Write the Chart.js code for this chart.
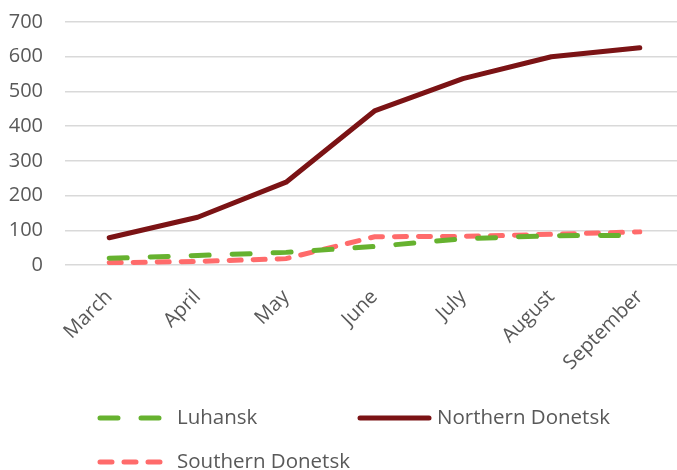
<!DOCTYPE html>
<html>
<head>
<meta charset="utf-8">
<script src="https://cdn.jsdelivr.net/npm/chart.js@4"></script>
<style>
    html, body { margin: 0; padding: 0; background: #fff; overflow: hidden; }
    #wrap { width: 684px; height: 470px; position: relative; }
</style>
</head>
<body>
<div id="wrap"><canvas id="chart"></canvas></div>
<script>
const months = ['March', 'April', 'May', 'June', 'July', 'August', 'September'];
const luhansk = [20, 28, 37, 54, 76, 85, 86];
const northernDonetsk = [79, 138, 239, 444, 537, 600, 626];
const southernDonetsk = [7, 11, 19, 82, 83, 89, 96];
const yTicks = [0, 100, 200, 300, 400, 500, 600, 700];

const textColor = '#595959';
const fontFamily = '"Open Sans", sans-serif';

// legend drawn as a 2-column grid like the original
const legendGrid = {
    swatchX: [98, 358, 98],
    swatchLen: [65, 73, 65],
    textX: [177, 437, 177],
    rowY: [418, 418, 462]
};

const gridLegend = {
    id: 'gridLegend',
    afterDraw(chart) {
        const ctx = chart.ctx;
        ctx.save();
        ctx.font = '20.5px ' + fontFamily;
        ctx.fillStyle = textColor;
        ctx.textBaseline = 'middle';
        chart.data.datasets.forEach((ds, i) => {
            const x = legendGrid.swatchX[i];
            const y = legendGrid.rowY[i];
            const len = legendGrid.swatchLen[i];
            ctx.beginPath();
            ctx.strokeStyle = ds.borderColor;
            ctx.lineWidth = ds.borderWidth;
            ctx.lineCap = 'round';
            ctx.setLineDash(ds.borderDash || []);
            ctx.moveTo(x + 2, y);
            ctx.lineTo(x + len - 2, y);
            ctx.stroke();
            ctx.setLineDash([]);
            ctx.fillText(ds.label, legendGrid.textX[i], y);
        });
        ctx.restore();
    }
};

new Chart(document.getElementById('chart'), {
    type: 'line',
    data: {
        labels: months,
        datasets: [{
            label: 'Luhansk',
            data: luhansk,
            borderColor: '#66b22f',
            borderWidth: 5,
            borderDash: [18, 23],
            borderCapStyle: 'round',
            pointRadius: 0,
            tension: 0
        }, {
            label: 'Northern Donetsk',
            data: northernDonetsk,
            borderColor: '#7b1315',
            borderWidth: 5,
            borderCapStyle: 'round',
            borderJoinStyle: 'round',
            pointRadius: 0,
            tension: 0
        }, {
            label: 'Southern Donetsk',
            data: southernDonetsk,
            borderColor: '#ff6b6b',
            borderWidth: 5,
            borderDash: [12, 12],
            borderCapStyle: 'round',
            pointRadius: 0,
            tension: 0
        }]
    },
    options: {
        responsive: true,
        maintainAspectRatio: false,
        animation: false,
        layout: {
            padding: { left: 6, top: 0, right: 0, bottom: 83 }
        },
        scales: {
            x: {
                offset: true,
                grid: { display: false },
                border: { display: false },
                afterFit: (scale) => {
                    // rotated labels may hang past the plot edges, as in the original
                    scale.paddingLeft = 0;
                    scale.paddingRight = 0;
                },
                ticks: {
                    color: textColor,
                    font: { family: fontFamily, size: 20 },
                    minRotation: 45,
                    maxRotation: 45,
                    autoSkip: false,
                    padding: 12
                }
            },
            y: {
                min: 0,
                max: 700,
                afterBuildTicks: (axis) => {
                    axis.ticks = yTicks.map((v) => ({ value: v }));
                },
                afterFit: (scale) => {
                    scale.width = 59;
                    scale.paddingTop = 22;
                    scale.paddingBottom = 0;
                },
                grid: { color: '#d9d9d9', lineWidth: 1.5, drawTicks: false },
                border: { display: false },
                ticks: {
                    color: textColor,
                    font: { family: fontFamily, size: 20 },
                    padding: 22
                }
            }
        },
        plugins: {
            legend: { display: false },
            tooltip: { enabled: false }
        }
    },
    plugins: [gridLegend]
});
</script>
</body>
</html>
